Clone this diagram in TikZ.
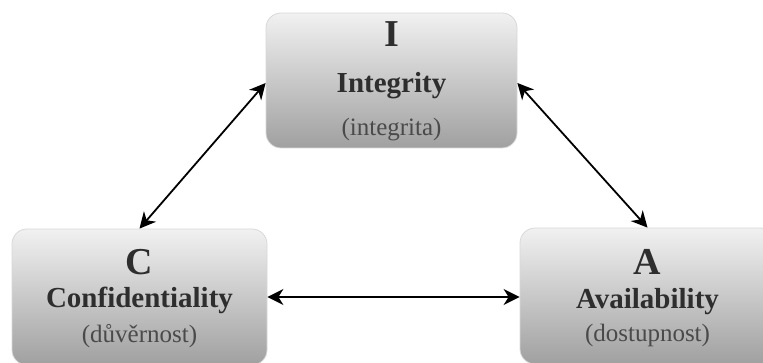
\documentclass[tikz,border=0pt]{standalone}
\usepackage{fontspec}
\setmainfont{Liberation Serif}
\usetikzlibrary{arrows.meta}

\definecolor{boxtop}{HTML}{F1F1F1}
\definecolor{boxbot}{HTML}{A0A0A0}
\definecolor{boxline}{HTML}{D8D8D8}
\definecolor{ink}{HTML}{2E2E2E}
\definecolor{inklight}{HTML}{4A4A4A}

\tikzset{
  pillar/.style={draw=boxline, line width=0.8pt, rounded corners=15pt,
    top color=boxtop, bottom color=boxbot, inner sep=0pt},
  initial/.style={anchor=base, inner sep=0pt, text=ink,
    font=\fontsize{38}{40}\selectfont\bfseries},
  title/.style={anchor=base, inner sep=0pt, text=ink,
    font=\fontsize{29}{30}\selectfont\bfseries},
  gloss/.style={anchor=base, inner sep=0pt, text=inklight,
    font=\fontsize{25}{28}\selectfont},
  link/.style={line width=1.8pt, black,
    {Stealth[length=16pt,width=16pt,inset=5pt]}-{Stealth[length=16pt,width=16pt,inset=5pt]}}
}

\begin{document}
\begin{tikzpicture}[x=1pt,y=-1pt]
  \useasboundingbox (0,0) rectangle (763,363);

  % the three pillars
  \node[pillar, minimum width=251pt, minimum height=135pt] (I) at (391.5,80.5) {};
  \node[pillar, minimum width=255pt, minimum height=136pt] (C) at (139.5,297) {};
  \node[pillar, minimum width=255pt, minimum height=136pt] (A) at (647.5,296) {};

  % Integrity
  \node[initial] (Iletter) at (391.5,47) {I};
  \node[title]   (Iname)   at (391.5,93) {Integrity};
  \node[gloss]   (Igloss)  at (391.5,136) {(integrita)};

  % Confidentiality
  \node[initial] (Cletter) at (139.5,275) {C};
  \node[title]   (Cname)   at (139.5,307.5) {Confidentiality};
  \node[gloss]   (Cgloss)  at (139.5,342) {(důvěrnost)};

  % Availability
  \node[initial] (Aletter) at (647.5,275) {A};
  \node[title]   (Aname)   at (647.5,308.5) {Availability};
  \node[gloss]   (Agloss)  at (647.5,341.5) {(dostupnost)};

  % relations between the pillars
  \draw[link] (C.north) -- ([yshift=-2.5pt]I.west);
  \draw[link] ([yshift=-2.5pt]I.east) -- (A.north);
  \draw[link] (C.east) -- (C.east -| A.west);
\end{tikzpicture}
\end{document}
